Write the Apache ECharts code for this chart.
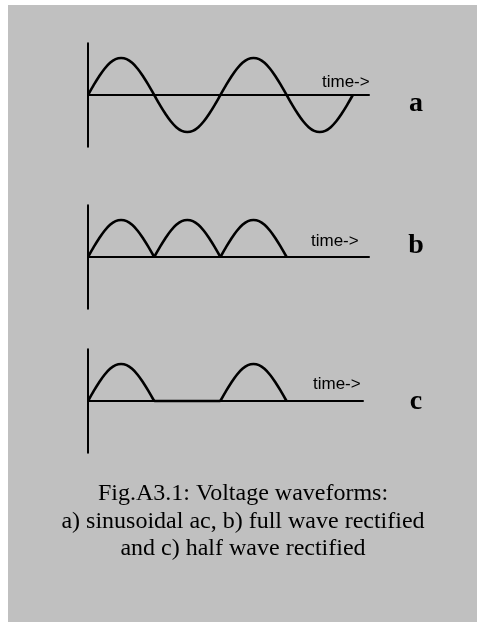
<!DOCTYPE html>
<html>
<head>
<meta charset="utf-8">
<title>Voltage waveforms</title>
<script src="https://cdn.jsdelivr.net/npm/echarts@6/dist/echarts.min.js"></script>
<style>
  html, body { margin: 0; padding: 0; background: #ffffff; }
  #chart { position: absolute; left: 8px; top: 5px; width: 469px; height: 617px; background: #c0c0c0; }
</style>
</head>
<body>
<div id="chart"></div>
<script>
// One half cycle of the waveform: phase in degrees and normalised voltage
const halfCyclePhase = [0, 15, 30, 45, 60, 75, 90, 105, 120, 135, 150, 165, 180];
const halfCycleLevel = [0, 0.26, 0.5, 0.71, 0.87, 0.97, 1, 0.97, 0.87, 0.71, 0.5, 0.26, 0];

// Polarity of each successive half cycle in the three traces
const polarityA = [1, -1, 1, -1];   // sinusoidal ac
const polarityB = [1, 1, 1];        // full wave rectified
const polarityC = [1, 0, 1];        // half wave rectified

const panelLetters = ['a', 'b', 'c'];
const timeLabel = 'time->';
const captionLines = [
  'Fig.A3.1: Voltage waveforms:',
  'a) sinusoidal ac, b) full wave rectified',
  'and c) half wave rectified'
];

// Layout of the three panels (pixels inside the chart area)
const panels = [
  { polarity: polarityA, joined: true,  grid: { left: 80, top: 38.2,  width: 281, height: 103.6 }, xMax: 764, timeAt: [314, 77],  letterAt: [408, 99] },
  { polarity: polarityB, joined: false, grid: { left: 80, top: 200.2, width: 281, height: 103.6 }, xMax: 764, timeAt: [303, 236], letterAt: [408, 241] },
  { polarity: polarityC, joined: false, grid: { left: 80, top: 344.2, width: 275, height: 103.6 }, xMax: 748, timeAt: [305, 379], letterAt: [408, 397] }
];

const lineStyle = { color: '#000', width: 2.6 };
const axisLine = { show: true, onZero: true, lineStyle: { color: '#000', width: 2 } };

const grids = [], xAxes = [], yAxes = [], series = [], graphics = [];

panels.forEach((p, idx) => {
  grids.push(Object.assign({ containLabel: false }, p.grid));
  xAxes.push({
    type: 'value', gridIndex: idx, min: 0, max: p.xMax,
    axisLine: axisLine, axisTick: { show: false }, axisLabel: { show: false }, splitLine: { show: false }
  });
  yAxes.push({
    type: 'value', gridIndex: idx, min: -1.4, max: 1.4,
    axisLine: axisLine, axisTick: { show: false }, axisLabel: { show: false }, splitLine: { show: false }
  });

  // Each half cycle from the shared shape, scaled by its polarity
  const halves = p.polarity.map((pol, k) =>
    halfCyclePhase.map((ph, i) => [k * 180 + ph, pol * halfCycleLevel[i]])
  );
  const groups = p.joined
    ? [halves.reduce((acc, h, k) => acc.concat(k === 0 ? h : h.slice(1)), [])]
    : halves;
  groups.forEach(data => {
    series.push({
      type: 'line', xAxisIndex: idx, yAxisIndex: idx, data: data,
      smooth: 0.4, showSymbol: false, symbol: 'none', lineStyle: lineStyle, z: 3
    });
  });

  graphics.push({
    type: 'text', x: p.timeAt[0], y: p.timeAt[1],
    style: { text: timeLabel, fill: '#000', font: '17px "Liberation Sans", Arial, sans-serif', align: 'left', verticalAlign: 'middle' }
  });
  graphics.push({
    type: 'text', x: p.letterAt[0], y: p.letterAt[1],
    style: { text: panelLetters[idx], fill: '#000', font: 'bold 28px "Liberation Serif", "Times New Roman", serif', align: 'center', verticalAlign: 'middle' }
  });
});

graphics.push({
  type: 'text', x: 235, y: 475.3,
  style: {
    text: captionLines.join('\n'), fill: '#000',
    font: '24px "Liberation Serif", "Times New Roman", serif',
    lineHeight: 27.5, align: 'center', verticalAlign: 'top'
  }
});

const chart = echarts.init(document.getElementById('chart'), null, { renderer: 'canvas' });
chart.setOption({
  animation: false,
  backgroundColor: 'transparent',
  grid: grids,
  xAxis: xAxes,
  yAxis: yAxes,
  series: series,
  graphic: graphics
});
</script>
</body>
</html>
